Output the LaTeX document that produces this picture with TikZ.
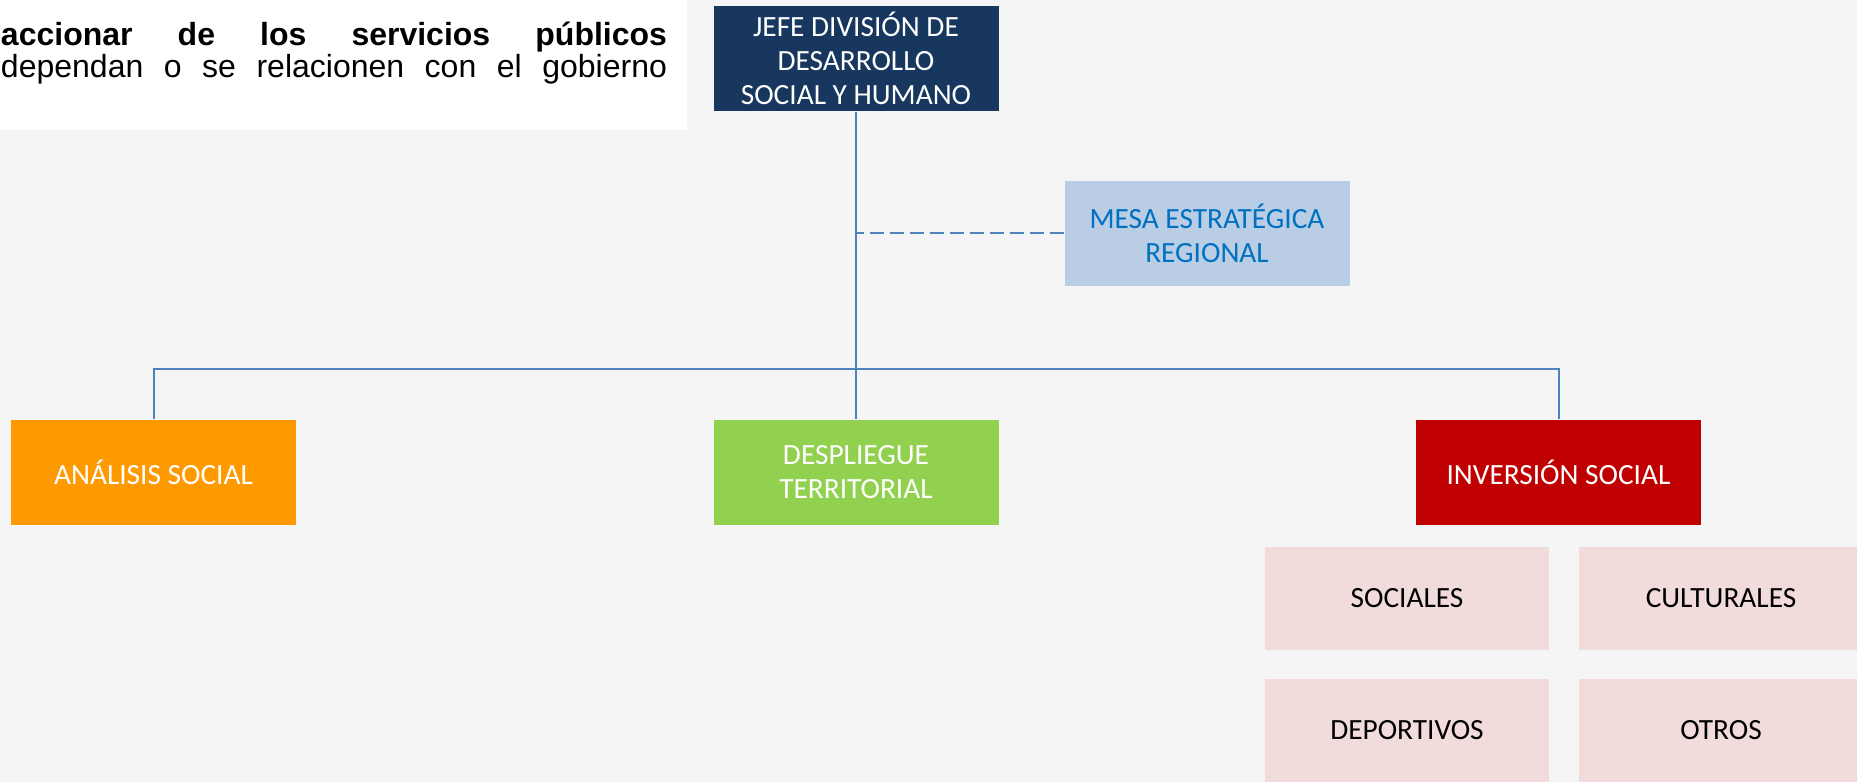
\documentclass[tikz,border=0pt]{standalone}
\usepackage{fontspec}
\setmainfont{Carlito}
\newfontfamily\arialfont{Liberation Sans}
\definecolor{fondo}{HTML}{F5F5F5}
\definecolor{jefeazul}{HTML}{17375E}
\definecolor{mesaazul}{HTML}{B9CDE5}
\definecolor{mesatexto}{HTML}{0070C0}
\definecolor{naranja}{HTML}{FF9900}
\definecolor{verde}{HTML}{92D050}
\definecolor{rojo}{HTML}{C00000}
\definecolor{rosa}{HTML}{F2DCDB}
\definecolor{linea}{HTML}{4F81BD}
\begin{document}
\begin{tikzpicture}[x=0.75pt,y=-0.75pt,line width=1.5pt,draw=linea]
	\tikzstyle{every node}=[rectangle,align=center,text=white,minimum width=213.75pt,minimum height=78.75pt,font=\fontsize{22}{25.5}\selectfont,inner sep=0pt]
	\tikzstyle{JF} =[fill=jefeazul] % JF = jefe
	\tikzstyle{AR} =[fill=mesaazul,text=mesatexto] % AR = asesoria
	\tikzstyle{SB} =[fill=rosa,text=black,minimum width=213pt,minimum height=77.25pt] % SB = sub area
	\tikzstyle{TX} =[anchor=base west,minimum width=0pt,minimum height=0pt,text=black,font=\arialfont\fontsize{24}{24}\selectfont] % TX = texto
	\useasboundingbox (0,0) rectangle (1857,782);
	\clip (0,0) rectangle (1857,782);
	\fill[fondo] (0,0) rectangle (1857,782);
	\fill[white] (0,0) rectangle (687,130);
	\node[TX] (linea1) at (0,45) {\makebox[499.5pt][s]{\bfseries accionar de los servicios públicos}};
	\node[TX] (linea2) at (0,77) {\makebox[499.5pt][s]{dependan o se relacionen con el gobierno}};
	\node[JF] (jefe) at (856,58) {JEFE DIVISIÓN DE\\DESARROLLO\\SOCIAL Y HUMANO};
	\node[AR] (mesa) at (1207,233) {MESA ESTRATÉGICA\\REGIONAL};
	\node[fill=naranja] (analisis) at (153.5,472.5) {ANÁLISIS SOCIAL};
	\node[fill=verde] (despliegue) at (856,472.5) {DESPLIEGUE\\TERRITORIAL};
	\node[fill=rojo] (inversion) at (1558.5,472.5) {INVERSIÓN SOCIAL};
	\node[SB] (sociales) at (1407,598.5) {SOCIALES};
	\node[SB] (culturales) at (1721,598.5) {CULTURALES};
	\node[SB] (deportivos) at (1407,730.5) {DEPORTIVOS};
	\node[SB] (otros) at (1721,730.5) {OTROS};
	\coordinate (bus) at (856,369);
	\draw (jefe.south) -- (despliegue.north);
	\draw (analisis.north) |- (bus) -| (inversion.north);
	\draw[dash pattern=on 10.5pt off 4.5pt] (mesa.west) -- (mesa.west -| jefe.south);
\end{tikzpicture}
\end{document}
